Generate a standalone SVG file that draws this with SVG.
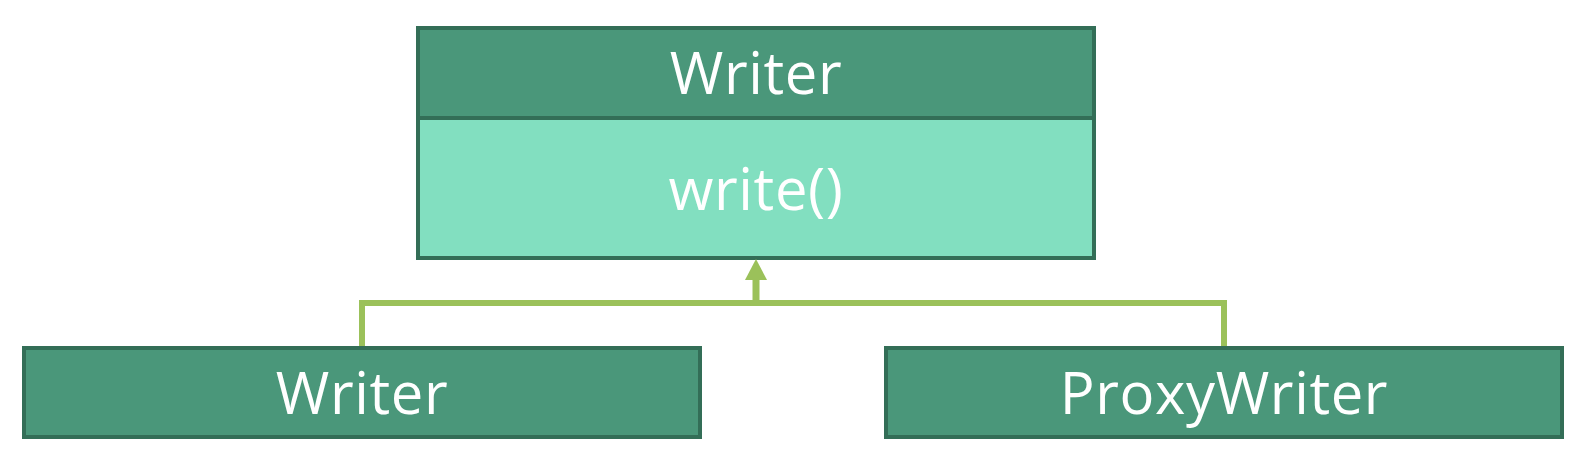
<svg xmlns="http://www.w3.org/2000/svg" width="1596" height="458" viewBox="0 0 1596 458">
<style>
.box{stroke:#336e57;stroke-width:4}
.hdr{fill:#4a977a}
.body{fill:#82dfc0}
.t{font-family:"Open Sans","Noto Sans",sans-serif;font-size:58px;font-weight:500;letter-spacing:0.6px;fill:#ffffff;text-anchor:middle}
.conn{fill:none;stroke:#9bc15a;stroke-width:6}
</style>
<rect width="1596" height="458" fill="#ffffff"/>
<g id="writer-interface">
<rect class="box body" x="418" y="28" width="676" height="230"/>
<rect class="box hdr" x="418" y="28" width="676" height="90"/>
<text class="t" x="756" y="94">Writer</text>
<text class="t" x="756" y="210">write()</text>
</g>
<g id="writer">
<rect class="box hdr" x="24" y="348" width="676" height="89"/>
<text class="t" x="362" y="414">Writer</text>
</g>
<g id="proxywriter">
<rect class="box hdr" x="886" y="348" width="676" height="89"/>
<text class="t" x="1224" y="414">ProxyWriter</text>
</g>
<g id="connectors">
<polyline class="conn" points="362,346 362,303 1224,303 1224,346"/>
<line x1="756" y1="306" x2="756" y2="278" stroke="#9bc15a" stroke-width="7"/>
<polygon points="756,259 767,280 745,280" fill="#9bc15a"/>
</g>
</svg>
